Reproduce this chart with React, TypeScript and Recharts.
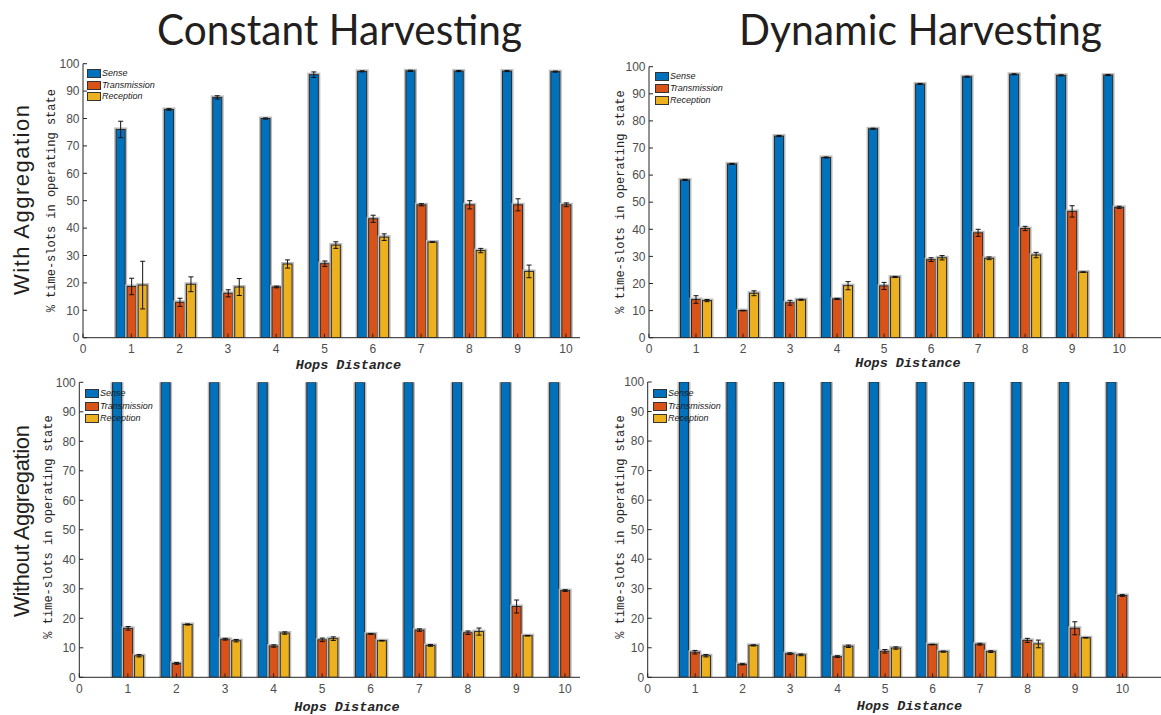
import { Bar, BarChart, ErrorBar, Legend, XAxis, YAxis } from "recharts";

const hops = [1, 2, 3, 4, 5, 6, 7, 8, 9, 10];
const hopTicks = [0, 1, 2, 3, 4, 5, 6, 7, 8, 9, 10];
const stateTicks = [0, 10, 20, 30, 40, 50, 60, 70, 80, 90, 100];
const seriesNames = ["Sense", "Transmission", "Reception"];
const seriesColors = ["#0072BD", "#D95319", "#EDB120"];

// constant harvesting, with aggregation
const constAggSense = [76.0, 83.3, 87.7, 80.0, 96.0, 97.2, 97.4, 97.3, 97.3, 97.1];
const constAggSenseErr = [3.0, 0.3, 0.6, 0.2, 1.0, 0.2, 0.2, 0.2, 0.2, 0.2];
const constAggTrans = [18.7, 12.9, 16.2, 18.5, 27.0, 43.4, 48.5, 48.5, 48.5, 48.5];
const constAggTransErr = [3.0, 1.5, 1.3, 0.3, 1.0, 1.3, 0.4, 1.5, 2.2, 0.7];
const constAggRecep = [19.2, 19.5, 18.5, 26.9, 33.8, 36.7, 34.9, 31.8, 24.2, 0];
const constAggRecepErr = [8.7, 2.7, 3.1, 1.5, 1.2, 1.2, 0.1, 0.8, 2.3, 0];

// dynamic harvesting, with aggregation
const dynAggSense = [58.2, 64.1, 74.4, 66.5, 77.1, 93.6, 96.3, 97.2, 96.8, 96.9];
const dynAggSenseErr = [0.2, 0.2, 0.2, 0.2, 0.2, 0.2, 0.2, 0.2, 0.2, 0.2];
const dynAggTrans = [14.1, 10.0, 12.9, 14.3, 19.1, 28.8, 38.7, 40.3, 46.6, 48.1];
const dynAggTransErr = [1.4, 0.1, 0.9, 0.2, 1.3, 0.7, 1.3, 0.8, 2.1, 0.4];
const dynAggRecep = [13.7, 16.4, 14.0, 19.2, 22.4, 29.5, 29.3, 30.5, 24.2, 0];
const dynAggRecepErr = [0.4, 0.9, 0.2, 1.5, 0.2, 0.8, 0.5, 1.0, 0.1, 0];

// constant harvesting, without aggregation
const constRawSense = [100, 100, 100, 100, 100, 100, 100, 100, 100, 100];
const constRawSenseErr = [0, 0, 0, 0, 0, 0, 0, 0, 0, 0];
const constRawTrans = [16.6, 4.7, 12.9, 10.6, 12.7, 14.7, 16.0, 15.1, 24.0, 29.4];
const constRawTransErr = [0.6, 0.3, 0.3, 0.4, 0.6, 0.1, 0.4, 0.6, 2.2, 0.3];
const constRawRecep = [7.3, 17.9, 12.4, 15.0, 13.1, 12.4, 10.8, 15.5, 14.1, 0];
const constRawRecepErr = [0.4, 0.2, 0.4, 0.4, 0.6, 0.1, 0.3, 1.2, 0.1, 0];

// dynamic harvesting, without aggregation
const dynRawSense = [100, 100, 100, 100, 100, 100, 100, 100, 100, 100];
const dynRawSenseErr = [0, 0, 0, 0, 0, 0, 0, 0, 0, 0];
const dynRawTrans = [8.5, 4.4, 8.0, 7.0, 8.8, 11.1, 11.2, 12.5, 16.6, 27.7];
const dynRawTransErr = [0.6, 0.2, 0.3, 0.3, 0.6, 0.1, 0.3, 0.7, 2.2, 0.3];
const dynRawRecep = [7.3, 10.8, 7.6, 10.5, 9.9, 8.7, 8.7, 11.3, 13.4, 0];
const dynRawRecepErr = [0.4, 0.2, 0.3, 0.4, 0.4, 0.2, 0.3, 1.3, 0.1, 0];

type Row = {
  hop: number;
  sense: number;
  senseErr: number;
  trans: number;
  transErr: number;
  recep: number;
  recepErr: number;
};

function buildRows(
  sense: number[],
  senseErr: number[],
  trans: number[],
  transErr: number[],
  recep: number[],
  recepErr: number[],
): Row[] {
  return hops.map((hop, i) => ({
    hop,
    sense: sense[i],
    senseErr: senseErr[i],
    trans: trans[i],
    transErr: transErr[i],
    recep: recep[i],
    recepErr: recepErr[i],
  }));
}

const AXIS = "#262626";
const TICK_TEXT = { fill: "#4d4d4d", fontSize: 12, fontFamily: "Liberation Sans, Arial, sans-serif" };

// bar with a dark edge and a light grey halo
function FramedBar(props: any) {
  const { x, y, width, height, fill } = props;
  if (!height || height <= 0) return <g />;
  return (
    <g>
      <rect x={x - 1} y={y - 1} width={width + 2} height={height + 1} fill="none" stroke="#bcbcbc" strokeWidth={2} />
      <rect x={x} y={y} width={width} height={height} fill={fill} stroke="#2a2a2a" strokeWidth={1} />
    </g>
  );
}

function SeriesKey({ payload, rowGap }: { payload?: any[]; rowGap: number }) {
  const items = [...(payload ?? [])].sort(
    (a, b) => seriesNames.indexOf(a.value) - seriesNames.indexOf(b.value),
  );
  return (
    <div>
      {items.map((entry) => (
        <div key={entry.value} style={{ display: "flex", alignItems: "center", height: rowGap }}>
          <span
            style={{
              display: "inline-block",
              width: 14,
              height: 9,
              background: entry.color,
              border: "1px solid #333",
              boxSizing: "border-box",
            }}
          />
          <span
            style={{
              marginLeft: 1,
              fontSize: 9,
              fontStyle: "italic",
              fontFamily: "Liberation Sans, Arial, sans-serif",
              color: "#1a1a1a",
              lineHeight: 1,
            }}
          >
            {entry.value}
          </span>
        </div>
      ))}
    </div>
  );
}

type PanelProps = {
  rows: Row[];
  left: number;
  top: number;
  width: number;
  height: number;
  margin: { top: number; right: number; bottom: number; left: number };
  xMax: number;
  keyLeft: number;
  keyTop: number;
  keyRow: number;
};

function HopsPanel({ rows, left, top, width, height, margin, xMax, keyLeft, keyTop, keyRow }: PanelProps) {
  const err = { width: 2.5, stroke: "#111", strokeWidth: 1 };
  return (
    <div style={{ position: "absolute", left, top }}>
      <BarChart width={width} height={height} data={rows} margin={margin} barGap={2} barSize={9}>
        <XAxis
          type="number"
          dataKey="hop"
          domain={[0, xMax]}
          ticks={hopTicks}
          interval={0}
          allowDataOverflow
          height={30}
          stroke={AXIS}
          tickSize={-4}
          tickMargin={11}
          tick={TICK_TEXT}
        />
        <YAxis
          type="number"
          domain={[0, 100]}
          ticks={stateTicks}
          interval={0}
          allowDataOverflow
          width={40}
          stroke={AXIS}
          tickSize={-4}
          tickMargin={7.5}
          tick={TICK_TEXT}
        />
        {/* centred + middle keeps the key from reserving plot space */}
        <Legend
          layout="horizontal"
          verticalAlign="middle"
          align="center"
          wrapperStyle={{ left: keyLeft, top: keyTop, width: "auto", height: "auto" }}
          content={(p: any) => <SeriesKey payload={p.payload} rowGap={keyRow} />}
        />
        <Bar dataKey="sense" name={seriesNames[0]} fill={seriesColors[0]} shape={FramedBar} isAnimationActive={false}>
          <ErrorBar dataKey="senseErr" {...err} />
        </Bar>
        <Bar dataKey="trans" name={seriesNames[1]} fill={seriesColors[1]} shape={FramedBar} isAnimationActive={false}>
          <ErrorBar dataKey="transErr" {...err} />
        </Bar>
        <Bar dataKey="recep" name={seriesNames[2]} fill={seriesColors[2]} shape={FramedBar} isAnimationActive={false}>
          <ErrorBar dataKey="recepErr" {...err} />
        </Bar>
      </BarChart>
    </div>
  );
}

const yTitle = "% time-slots in operating state";
const xTitle = "Hops Distance";

export default function App() {
  const monoFont = "Liberation Mono, Courier New, monospace";
  return (
    <div style={{ position: "absolute", left: 0, top: 0, width: 1161, height: 715, background: "#fff" }}>
      <HopsPanel
        rows={buildRows(constAggSense, constAggSenseErr, constAggTrans, constAggTransErr, constAggRecep, constAggRecepErr)}
        left={0}
        top={50}
        width={580}
        height={330}
        margin={{ top: 13.7, right: 0, bottom: 12.3, left: 43 }}
        xMax={10.29}
        keyLeft={87}
        keyTop={18}
        keyRow={11.5}
      />
      <HopsPanel
        rows={buildRows(dynAggSense, dynAggSenseErr, dynAggTrans, dynAggTransErr, dynAggRecep, dynAggRecepErr)}
        left={600}
        top={50}
        width={561}
        height={330}
        margin={{ top: 16.7, right: 0, bottom: 12.3, left: 9 }}
        xMax={10.89}
        keyLeft={55}
        keyTop={21}
        keyRow={11.7}
      />
      <HopsPanel
        rows={buildRows(constRawSense, constRawSenseErr, constRawTrans, constRawTransErr, constRawRecep, constRawRecepErr)}
        left={0}
        top={370}
        width={580}
        height={340}
        margin={{ top: 12.3, right: 0, bottom: 2.7, left: 39.3 }}
        xMax={10.31}
        keyLeft={85}
        keyTop={17}
        keyRow={12.8}
      />
      <HopsPanel
        rows={buildRows(dynRawSense, dynRawSenseErr, dynRawTrans, dynRawTransErr, dynRawRecep, dynRawRecepErr)}
        left={600}
        top={370}
        width={561}
        height={340}
        margin={{ top: 12, right: 0, bottom: 2.7, left: 7.7 }}
        xMax={10.81}
        keyLeft={53}
        keyTop={17}
        keyRow={12.8}
      />
      <svg
        width={1161}
        height={715}
        style={{ position: "absolute", left: 0, top: 0, pointerEvents: "none" }}
      >
        <g fill="#231f20" fontFamily="Lato, Open Sans, sans-serif" fontSize={43}>
          <text x={157} y={45} textLength={365} lengthAdjust="spacingAndGlyphs">
            Constant Harvesting
          </text>
          <text x={739} y={45} textLength={363} lengthAdjust="spacingAndGlyphs">
            Dynamic Harvesting
          </text>
        </g>
        <g fill="#231f20" fontFamily="Liberation Sans, Arial, sans-serif" fontSize={22}>
          <text transform="translate(29,295) rotate(-90)" textLength={190} lengthAdjust="spacing">
            With Aggregation
          </text>
          <text transform="translate(29,617) rotate(-90)" textLength={192} lengthAdjust="spacing">
            Without Aggregation
          </text>
        </g>
        <g fill={AXIS} fontFamily={monoFont} fontSize={12} textAnchor="middle">
          <text transform="translate(55,200.7) rotate(-90)">{yTitle}</text>
          <text transform="translate(624,202) rotate(-90)">{yTitle}</text>
          <text transform="translate(52,527) rotate(-90)">{yTitle}</text>
          <text transform="translate(624,527) rotate(-90)">{yTitle}</text>
        </g>
        <g fill={AXIS} fontFamily={monoFont} fontSize={13.5} fontWeight="bold" fontStyle="italic" textAnchor="middle">
          <text x={348.5} y={369}>{xTitle}</text>
          <text x={908} y={367}>{xTitle}</text>
          <text x={347} y={711}>{xTitle}</text>
          <text x={909.5} y={710}>{xTitle}</text>
        </g>
      </svg>
    </div>
  );
}
